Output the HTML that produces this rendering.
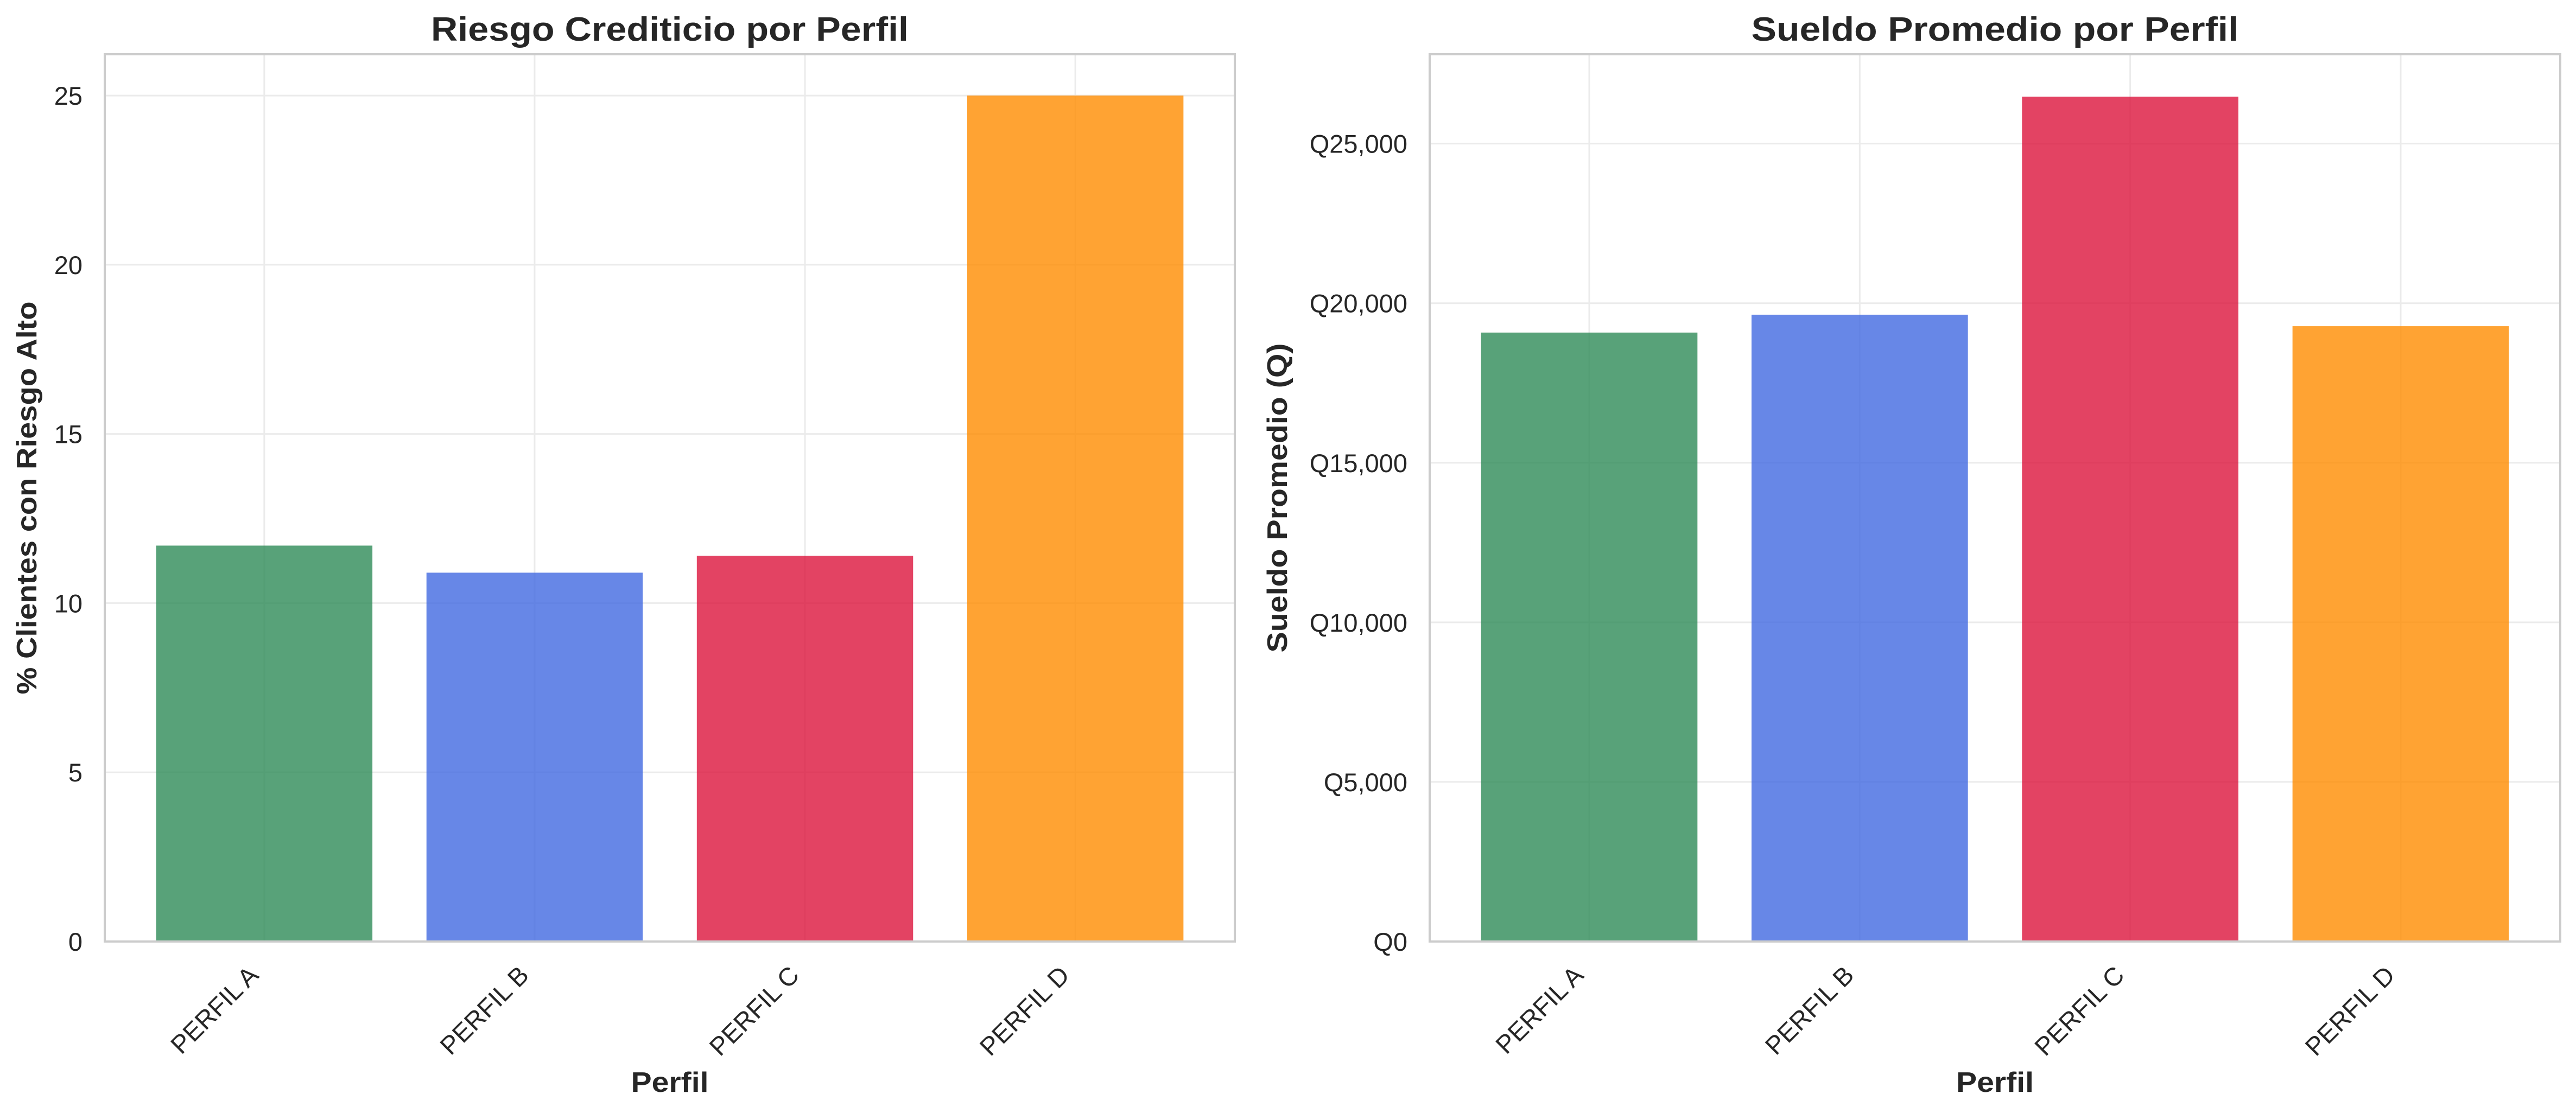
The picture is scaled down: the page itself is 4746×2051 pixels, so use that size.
<!DOCTYPE html>
<html><head><meta charset="utf-8"><style>
html,body{margin:0;padding:0;background:#fff;}
svg text{font-family:"Liberation Sans","DejaVu Sans",sans-serif;fill:#262626;}
</style></head><body>
<svg id="fig" width="4746" height="2046" viewBox="0 0 4746 2046" xmlns="http://www.w3.org/2000/svg">
<rect width="4746" height="2046" fill="#fff"/>
</svg>
<script>
const categories = ["PERFIL A","PERFIL B","PERFIL C","PERFIL D"];
const riskValues = [11.7, 10.9, 11.4, 25.0];
const salaryValues = [19080, 19640, 26470, 19280];
const riskTicks = [0,5,10,15,20,25];
const riskTickLabels = ["0","5","10","15","20","25"];
const salaryTicks = [0,5000,10000,15000,20000,25000];
const salaryTickLabels = ["Q0","Q5,000","Q10,000","Q15,000","Q20,000","Q25,000"];
const barColors = ["#2e8b57","#4169e1","#dc143c","#ff8c00"];

const NS="http://www.w3.org/2000/svg";
const svg=document.getElementById('fig');
function mk(tag,attrs,parent){const e=document.createElementNS(NS,tag);for(const k in attrs)e.setAttribute(k,attrs[k]);(parent||svg).appendChild(e);return e;}

function panel(cfg){
  const L=cfg.left,R=cfg.right,T=100,B=1735;
  const xmin=-0.59,xmax=categories.length-1+0.59;
  const xs=v=>L+(v-xmin)/(xmax-xmin)*(R-L);
  const ys=v=>B-(v/cfg.ymax)*(B-T);
  const g=mk('g',{});
  
  
  // grid
  cfg.ticks.forEach((t,i)=>{
    const y=ys(t);
    const ln=mk('line',{x1:L,x2:R,y1:y,y2:y,stroke:'#ebebeb','stroke-width':3},g);
    
    
    const tx=mk('text',{x:L-41,y:y+17,'text-anchor':'end','font-size':47},g);
    
    
    tx.textContent=cfg.tickLabels[i];
  });
  categories.forEach((c,i)=>{
    const x=xs(i);
    const ln=mk('line',{x1:x,x2:x,y1:T,y2:B,stroke:'#ebebeb','stroke-width':3},g);
    
    
  });
  // bars
  cfg.values.forEach((v,i)=>{
    const x0=xs(i-0.4),x1=xs(i+0.4),y=ys(v);
    const r=mk('rect',{x:x0,y:y,width:x1-x0,height:B-y,fill:barColors[i],'fill-opacity':0.8},g);
    
    
  });
  // spines
  const sp=mk('rect',{x:L,y:T,width:R-L,height:B-T,fill:'none',stroke:'#cccccc','stroke-width':4},g);
  
  
  // x tick labels
  categories.forEach((c,i)=>{
    const px=xs(i)-8,py=1800;
    const t=mk('text',{x:px,y:py,'text-anchor':'end','font-size':47,transform:`rotate(-45 ${px} ${py})`},g);
    
    
    t.textContent=c;
  });
  const cx=(L+R)/2;
  const title=mk('text',{x:cx,y:75,'text-anchor':'middle','font-size':62,'font-weight':'bold',textLength:cfg.titleLen,lengthAdjust:'spacingAndGlyphs'},g);
  
  
  title.textContent=cfg.title;
  const xl=mk('text',{x:cx,y:2012,'text-anchor':'middle','font-size':52,'font-weight':'bold',textLength:143,lengthAdjust:'spacingAndGlyphs'},g);
  
  
  xl.textContent='Perfil';
  const yc=(T+B)/2;
  const yl=mk('text',{x:cfg.ylabelX,y:yc,'text-anchor':'middle','font-size':52,'font-weight':'bold',textLength:cfg.ylabelLen,lengthAdjust:'spacingAndGlyphs',transform:`rotate(-90 ${cfg.ylabelX} ${yc})`},g);
  
  
  yl.textContent=cfg.ylabel;
}
panel({name:'risk-chart',left:193,right:2275,ymax:26.22,values:riskValues,ticks:riskTicks,tickLabels:riskTickLabels,
  title:'Riesgo Crediticio por Perfil',titleLen:880,ylabel:'% Clientes con Riesgo Alto',ylabelX:67,ylabelLen:724});
panel({name:'salary-chart',left:2634,right:4717,ymax:27800,values:salaryValues,ticks:salaryTicks,tickLabels:salaryTickLabels,
  title:'Sueldo Promedio por Perfil',titleLen:898,ylabel:'Sueldo Promedio (Q)',ylabelX:2371,ylabelLen:570});
</script>
</body></html>
